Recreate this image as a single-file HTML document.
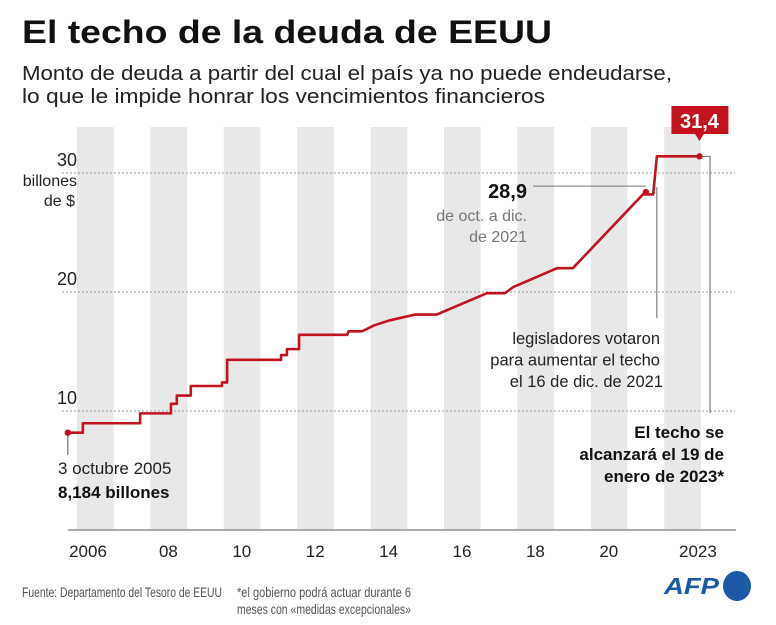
<!DOCTYPE html>
<html><head><meta charset="utf-8"><style>
html,body{margin:0;padding:0;background:#fff}
svg{display:block;font-family:"Liberation Sans",sans-serif}
</style></head><body>
<svg id="chart" width="776" height="625" viewBox="0 0 776 625">
<text x="22" y="43" font-size="32" font-weight="bold" fill="#111" textLength="530" lengthAdjust="spacingAndGlyphs">El techo de la deuda de EEUU</text>
<text x="22" y="80" font-size="20" fill="#222" textLength="650" lengthAdjust="spacingAndGlyphs">Monto de deuda a partir del cual el país ya no puede endeudarse,</text>
<text x="22" y="103" font-size="20" fill="#222" textLength="523" lengthAdjust="spacingAndGlyphs">lo que le impide honrar los vencimientos financieros</text>
<g id="stripes"></g>
<g id="grid"></g>
<g id="xaxis"></g>
<g id="yaxis"></g>
<text x="77" y="186" font-size="16" fill="#222" text-anchor="end">billones</text>
<text x="75" y="206" font-size="16" fill="#222" text-anchor="end">de $</text>
<g id="annot"></g>
<g id="series"></g>
<text x="22" y="597" font-size="14" fill="#555" textLength="200" lengthAdjust="spacingAndGlyphs">Fuente: Departamento del Tesoro de EEUU</text>
<text x="237" y="597" font-size="14" fill="#555" textLength="174" lengthAdjust="spacingAndGlyphs">*el gobierno podrá actuar durante 6</text>
<text x="237" y="614" font-size="14" fill="#555" textLength="174" lengthAdjust="spacingAndGlyphs">meses con «medidas excepcionales»</text>
<g>
<text x="664" y="594" font-size="23" font-weight="bold" font-style="italic" fill="#1c5aa8" textLength="55" lengthAdjust="spacingAndGlyphs">AFP</text>
<ellipse cx="737" cy="586" rx="14" ry="15" fill="#1c5aa8"/>
</g>
</svg>
<script>
const years = [2006,2007,2008,2009,2010,2011,2012,2013,2014,2015,2016,2017,2018,2019,2020,2021,2022];
const tickYears = [2006,2008,2010,2012,2014,2016,2018,2020,2023];
const tickLabels = ["2006","08","10","12","14","16","18","20","2023"];
const yTicks = [10,20,30];
const dates = [2005.75,2006.16,2006.16,2007.72,2007.72,2008.56,2008.56,2008.72,2008.72,2009.1,2009.1,2009.95,2009.95,2010.09,2010.09,2011.56,2011.56,2011.72,2011.72,2012.05,2012.05,2013.36,2013.4,2013.77,2014.1,2014.5,2015.2,2015.8,2017.17,2017.66,2017.88,2019.08,2019.51,2021.42,2021.7,2021.8,2022.96];
const values = [8.18,8.18,8.97,8.97,9.8,9.8,10.6,10.6,11.3,11.3,12.1,12.1,12.4,12.4,14.3,14.3,14.7,14.7,15.2,15.2,16.4,16.4,16.7,16.7,17.2,17.6,18.1,18.1,19.9,19.9,20.4,22.0,22.0,28.2,28.2,31.4,31.4];
const startValue = 8.18, startDate = 2005.75;
const midValue = 28.9, midDate = 2021.5;
const endValue = 31.4, endDate = 2022.96;
const voteDate = 2021.8;

const NS="http://www.w3.org/2000/svg";
const X = y => 77 + (y-2006)*36.7;
const Y = v => 530 - v*11.9;
function mk(parent,tag,attrs,txt){const e=document.createElementNS(NS,tag);for(const k in attrs)e.setAttribute(k,attrs[k]);if(txt!==undefined)e.textContent=txt;document.getElementById(parent).appendChild(e);return e;}

years.forEach((yr,i)=>{ if(i%2===0){
  const r=mk('stripes','rect',{x:X(yr),y:127,width:36.7,height:403,fill:'#e8e8e8'});
  
  
}});
yTicks.forEach(v=>{
  const l=mk('grid','line',{x1:62,x2:735,y1:Y(v),y2:Y(v),stroke:'#999','stroke-width':1,'stroke-dasharray':'2,2'});
  
  
  const t=mk('yaxis','text',{x:57,y:Y(v)-7,'font-size':18,fill:'#222'},String(v));
  
  
});
mk('xaxis','line',{x1:68,x2:736,y1:530,y2:530,stroke:'#aaa','stroke-width':2});
tickYears.forEach((yr,i)=>{
  let cx = X(yr)+18;
  if(i===0) cx=88; if(i===tickYears.length-1) cx=X(yr)-3;
  const t=mk('xaxis','text',{x:cx,y:557,'font-size':17,fill:'#222','text-anchor':'middle'},tickLabels[i]);
  
  
});

const sx=X(startDate), sy=Y(startValue);
mk('annot','line',{x1:sx,x2:sx,y1:sy,y2:455,stroke:'#555','stroke-width':1});
let a=mk('annot','text',{x:58,y:474,'font-size':17,fill:'#222'},'3 octubre 2005');


a=mk('annot','text',{x:58,y:498,'font-size':17,'font-weight':'bold',fill:'#111'},'8,184 billones');



const mx=X(midDate), my=Y(midValue);
mk('annot','line',{x1:533,x2:mx,y1:my,y2:my,stroke:'#777','stroke-width':1});
a=mk('annot','text',{x:527,y:198,'font-size':20,'font-weight':'bold',fill:'#111','text-anchor':'end'},'28,9');


mk('annot','text',{x:527,y:221,'font-size':16,fill:'#777','text-anchor':'end'},'de oct. a dic.');
mk('annot','text',{x:527,y:242,'font-size':16,fill:'#777','text-anchor':'end'},'de 2021');

const vx=X(voteDate);
mk('annot','line',{x1:vx,x2:vx,y1:Y(midValue)+1,y2:318,stroke:'#666','stroke-width':1});
['legisladores votaron','para aumentar el techo','el 16 de dic. de 2021'].forEach((s,i)=>{
  const t=mk('annot','text',{x:i===2?663:660,y:344+i*21.5,'font-size':16.5,fill:'#222','text-anchor':'end'},s);
  
  
});
const ex=X(endDate), ey=Y(endValue);
mk('annot','polyline',{points:`${ex},${ey} 710,${ey} 710,413`,fill:'none',stroke:'#666','stroke-width':1});
['El techo se','alcanzará el 19 de','enero de 2023*'].forEach((s,i)=>{
  const t=mk('annot','text',{x:724,y:438+i*22,'font-size':17,'font-weight':'bold',fill:'#111','text-anchor':'end'},s);
  
  
});

const pts=dates.map((d,i)=>X(d)+','+Y(values[i])).join(' ');
const pl=mk('series','polyline',{points:pts,fill:'none',stroke:'#c0131f','stroke-width':2.6,'stroke-linejoin':'round'});


[[startDate,startValue],[midDate,midValue-0.5],[endDate,endValue]].forEach(p=>{
  const c=mk('series','circle',{cx:X(p[0]),cy:Y(p[1]),r:3.2,fill:'#c0131f'});
  
  
});
mk('series','rect',{x:ex-28,y:106,width:57,height:28,fill:'#c4131f'});
mk('series','polygon',{points:`${ex-5},133 ${ex+5},133 ${ex},141`,fill:'#c4131f'});
const lb=mk('series','text',{x:ex,y:128,'font-size':20,'font-weight':'bold',fill:'#fff','text-anchor':'middle'},'31,4');


</script>
</body></html>
